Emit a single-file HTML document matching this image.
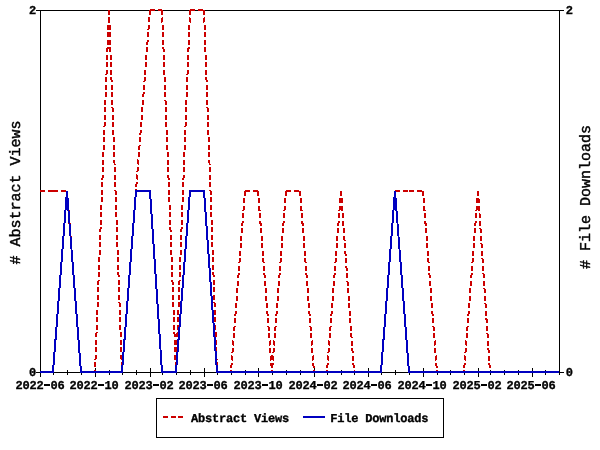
<!DOCTYPE html>
<html><head><meta charset="utf-8"><style>
html,body{margin:0;padding:0;background:#fff;}
svg{display:block;}
.t{font-family:"Liberation Mono",monospace;font-weight:bold;font-size:12px;letter-spacing:-0.2px;fill:#000;stroke:#000;stroke-width:0.35px;text-rendering:geometricPrecision;}
.ti{font-family:"Liberation Mono",monospace;font-size:15px;fill:#000;stroke:#000;stroke-width:0.45px;text-rendering:geometricPrecision;}
.gs{opacity:0.999;}
</style></head><body>
<svg width="600" height="450" viewBox="0 0 600 450">
<rect width="600" height="450" fill="#fff"/>
<g stroke="#000" stroke-width="1" shape-rendering="crispEdges" fill="none">
<line x1="36" y1="10.5" x2="564" y2="10.5"/>
<line x1="36" y1="372.5" x2="564" y2="372.5"/>
<line x1="40.5" y1="10" x2="40.5" y2="373"/>
<line x1="559.5" y1="10" x2="559.5" y2="373"/>
<line x1="40.5" y1="368" x2="40.5" y2="377"/><line x1="53.5" y1="370" x2="53.5" y2="375"/><line x1="67.5" y1="370" x2="67.5" y2="375"/><line x1="81.5" y1="370" x2="81.5" y2="375"/><line x1="95.5" y1="368" x2="95.5" y2="377"/><line x1="109.5" y1="370" x2="109.5" y2="375"/><line x1="122.5" y1="370" x2="122.5" y2="375"/><line x1="136.5" y1="370" x2="136.5" y2="375"/><line x1="150.5" y1="368" x2="150.5" y2="377"/><line x1="162.5" y1="370" x2="162.5" y2="375"/><line x1="176.5" y1="370" x2="176.5" y2="375"/><line x1="190.5" y1="370" x2="190.5" y2="375"/><line x1="204.5" y1="368" x2="204.5" y2="377"/><line x1="217.5" y1="370" x2="217.5" y2="375"/><line x1="231.5" y1="370" x2="231.5" y2="375"/><line x1="245.5" y1="370" x2="245.5" y2="375"/><line x1="258.5" y1="368" x2="258.5" y2="377"/><line x1="272.5" y1="370" x2="272.5" y2="375"/><line x1="286.5" y1="370" x2="286.5" y2="375"/><line x1="300.5" y1="370" x2="300.5" y2="375"/><line x1="314.5" y1="368" x2="314.5" y2="377"/><line x1="327.5" y1="370" x2="327.5" y2="375"/><line x1="341.5" y1="370" x2="341.5" y2="375"/><line x1="354.5" y1="370" x2="354.5" y2="375"/><line x1="368.5" y1="368" x2="368.5" y2="377"/><line x1="381.5" y1="370" x2="381.5" y2="375"/><line x1="395.5" y1="370" x2="395.5" y2="375"/><line x1="409.5" y1="370" x2="409.5" y2="375"/><line x1="423.5" y1="368" x2="423.5" y2="377"/><line x1="437.5" y1="370" x2="437.5" y2="375"/><line x1="450.5" y1="370" x2="450.5" y2="375"/><line x1="464.5" y1="370" x2="464.5" y2="375"/><line x1="478.5" y1="368" x2="478.5" y2="377"/><line x1="490.5" y1="370" x2="490.5" y2="375"/><line x1="504.5" y1="370" x2="504.5" y2="375"/><line x1="518.5" y1="370" x2="518.5" y2="375"/><line x1="532.5" y1="368" x2="532.5" y2="377"/><line x1="545.5" y1="370" x2="545.5" y2="375"/><line x1="559.5" y1="370" x2="559.5" y2="375"/>
<rect x="156.5" y="398.5" width="287" height="39"/>
</g>
<g shape-rendering="crispEdges" fill="none" stroke-width="2">
<g stroke="#cc0000" stroke-dasharray="5,2.5"><line x1="40.00" y1="191.00" x2="53.00" y2="191.00"/><line x1="53.00" y1="191.00" x2="67.00" y2="191.00"/><line x1="67.00" y1="191.00" x2="81.00" y2="372.00"/><line x1="81.00" y1="372.00" x2="95.00" y2="372.00"/><line x1="109.00" y1="10.00" x2="95.00" y2="372.00"/><line x1="109.00" y1="10.00" x2="122.00" y2="372.00"/><line x1="136.00" y1="191.00" x2="122.00" y2="372.00"/><line x1="150.00" y1="10.00" x2="136.00" y2="191.00"/><line x1="150.00" y1="10.00" x2="162.00" y2="10.00"/><line x1="162.00" y1="10.00" x2="176.00" y2="372.00"/><line x1="190.00" y1="10.00" x2="176.00" y2="372.00"/><line x1="190.00" y1="10.00" x2="204.00" y2="10.00"/><line x1="204.00" y1="10.00" x2="217.00" y2="372.00"/><line x1="217.00" y1="372.00" x2="231.00" y2="372.00"/><line x1="245.00" y1="191.00" x2="231.00" y2="372.00"/><line x1="245.00" y1="191.00" x2="258.00" y2="191.00"/><line x1="258.00" y1="191.00" x2="272.00" y2="372.00"/><line x1="286.00" y1="191.00" x2="272.00" y2="372.00"/><line x1="286.00" y1="191.00" x2="300.00" y2="191.00"/><line x1="300.00" y1="191.00" x2="314.00" y2="372.00"/><line x1="314.00" y1="372.00" x2="327.00" y2="372.00"/><line x1="341.00" y1="191.00" x2="327.00" y2="372.00"/><line x1="341.00" y1="191.00" x2="354.00" y2="372.00"/><line x1="354.00" y1="372.00" x2="368.00" y2="372.00"/><line x1="368.00" y1="372.00" x2="381.00" y2="372.00"/><line x1="395.00" y1="191.00" x2="381.00" y2="372.00"/><line x1="395.00" y1="191.00" x2="409.00" y2="191.00"/><line x1="409.00" y1="191.00" x2="423.00" y2="191.00"/><line x1="423.00" y1="191.00" x2="437.00" y2="372.00"/><line x1="437.00" y1="372.00" x2="450.00" y2="372.00"/><line x1="450.00" y1="372.00" x2="464.00" y2="372.00"/><line x1="478.00" y1="191.00" x2="464.00" y2="372.00"/><line x1="478.00" y1="191.00" x2="490.00" y2="372.00"/><line x1="490.00" y1="372.00" x2="504.00" y2="372.00"/><line x1="504.00" y1="372.00" x2="518.00" y2="372.00"/><line x1="518.00" y1="372.00" x2="532.00" y2="372.00"/><line x1="532.00" y1="372.00" x2="545.00" y2="372.00"/><line x1="545.00" y1="372.00" x2="559.00" y2="372.00"/></g>
<path d="M40.00,372.00 L53.00,372.00 L67.00,191.00 L81.00,372.00 L95.00,372.00 L109.00,372.00 L122.00,372.00 L136.00,191.00 L150.00,191.00 L162.00,372.00 L176.00,372.00 L190.00,191.00 L204.00,191.00 L217.00,372.00 L231.00,372.00 L245.00,372.00 L258.00,372.00 L272.00,372.00 L286.00,372.00 L300.00,372.00 L314.00,372.00 L327.00,372.00 L341.00,372.00 L354.00,372.00 L368.00,372.00 L381.00,372.00 L395.00,191.00 L409.00,372.00 L423.00,372.00 L437.00,372.00 L450.00,372.00 L464.00,372.00 L478.00,372.00 L490.00,372.00 L504.00,372.00 L518.00,372.00 L532.00,372.00 L545.00,372.00 L559.00,372.00" stroke="#0000c0"/>
<line x1="163" y1="417" x2="183" y2="417" stroke="#cc0000" stroke-dasharray="5,2.5"/>
<line x1="303" y1="417" x2="325" y2="417" stroke="#0000c0"/>
</g>
<g class="gs">
<g class="t">
<text transform="translate(35.9,14) scale(1,1.0001)" text-anchor="end">2</text>
<text transform="translate(35.9,376) scale(1,1.0001)" text-anchor="end">0</text>
<text transform="translate(565.8,14) scale(1,1.0001)">2</text>
<text transform="translate(565.8,376) scale(1,1.0001)">0</text>
<text transform="translate(40.1,389) scale(1,1.0001)" text-anchor="middle">2022 06</text><text transform="translate(94.1,389) scale(1,1.0001)" text-anchor="middle">2022 10</text><text transform="translate(149.1,389) scale(1,1.0001)" text-anchor="middle">2023 02</text><text transform="translate(203.1,389) scale(1,1.0001)" text-anchor="middle">2023 06</text><text transform="translate(258.1,389) scale(1,1.0001)" text-anchor="middle">2023 10</text><text transform="translate(313.1,389) scale(1,1.0001)" text-anchor="middle">2024 02</text><text transform="translate(367.1,389) scale(1,1.0001)" text-anchor="middle">2024 06</text><text transform="translate(422.1,389) scale(1,1.0001)" text-anchor="middle">2024 10</text><text transform="translate(477.1,389) scale(1,1.0001)" text-anchor="middle">2025 02</text><text transform="translate(531.1,389) scale(1,1.0001)" text-anchor="middle">2025 06</text>
</g>
<g fill="#000" shape-rendering="crispEdges"><rect x="44" y="384" width="6" height="2"/><rect x="98" y="384" width="6" height="2"/><rect x="153" y="384" width="6" height="2"/><rect x="207" y="384" width="6" height="2"/><rect x="262" y="384" width="6" height="2"/><rect x="317" y="384" width="6" height="2"/><rect x="371" y="384" width="6" height="2"/><rect x="426" y="384" width="6" height="2"/><rect x="481" y="384" width="6" height="2"/><rect x="535" y="384" width="6" height="2"/></g>
<g class="t">
<text transform="translate(191,422) scale(1,1.0001)">Abstract Views</text>
<text transform="translate(330.2,422) scale(1,1.0001)">File Downloads</text>
</g>
<g class="ti">
<text transform="translate(20,192.5) rotate(-90)" text-anchor="middle"># Abstract Views</text>
<text transform="translate(590,197) rotate(-90)" text-anchor="middle"># File Downloads</text>
</g>
</g>
</svg>
</body></html>
